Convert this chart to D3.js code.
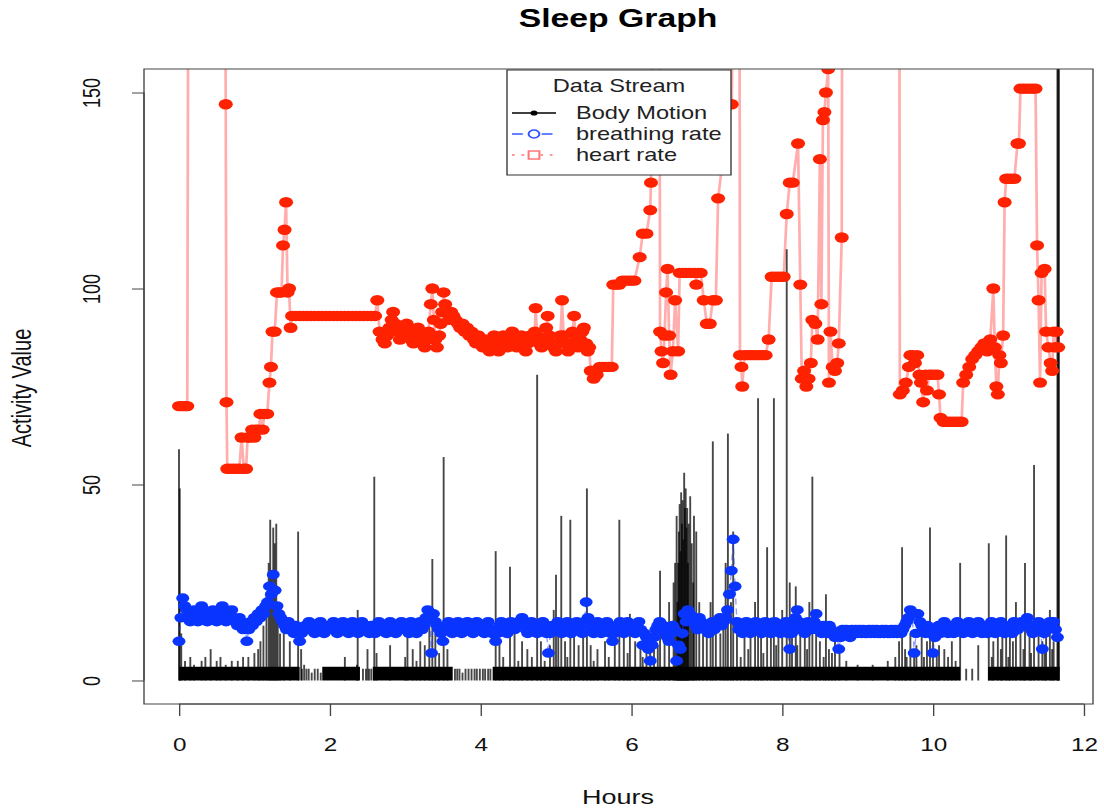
<!DOCTYPE html>
<html>
<head>
<meta charset="utf-8">
<script src="https://cdn.jsdelivr.net/npm/d3@7"></script>
<style>
  body { margin: 0; background: #fff; }
  svg { display: block; }
</style>
</head>
<body>
<svg id="chart" width="1104" height="808"></svg>
<script>
// ---- data ----
var xTicks = [0, 2, 4, 6, 8, 10, 12];
var yTicks = [0, 50, 100, 150];
var legendLabels = ["Body Motion", "breathing rate", "heart rate"];

// heart rate: [hour, bpm]; 250 = sensor spike above the plot
var heartRate = [
  [0.00,70],[0.04,70],[0.08,70],[0.11,70],[0.13,250],[0.60,250],[0.62,147],[0.63,71],
  [0.64,54],[0.68,54],[0.72,54],[0.76,54],[0.80,54],[0.83,62],[0.86,54],[0.89,54],[0.91,62],[0.94,62],
  [0.97,64],[1.00,62],[1.02,64],[1.06,64],[1.08,68],[1.11,64],[1.13,68],[1.17,68],[1.20,76],[1.22,80],
  [1.24,89],[1.27,89],[1.30,99],[1.33,99],[1.36,99],[1.38,111],[1.40,115],[1.42,122],[1.44,99],[1.46,100],
  [1.48,90],[1.50,93],[1.55,93],[1.60,93],[1.65,93],[1.70,93],[1.75,93],[1.80,93],[1.85,93],[1.90,93],
  [1.95,93],[2.00,93],[2.05,93],[2.10,93],[2.15,93],[2.20,93],[2.25,93],[2.30,93],[2.35,93],[2.40,93],
  [2.45,93],[2.50,93],[2.55,93],[2.60,93],
  [2.63,97],[2.66,89],[2.70,87],[2.73,86],[2.76,88],[2.79,90],[2.82,92],[2.84,94],[2.87,91],[2.90,89],
  [2.93,87],[2.96,88],[2.99,90],[3.02,91],[3.05,89],[3.08,87],[3.11,86],[3.14,88],[3.17,90],[3.20,88],
  [3.23,86],[3.26,85],[3.29,87],[3.31,89],[3.34,96],[3.36,100],[3.38,92],[3.40,87],[3.42,85],[3.45,88],
  [3.47,91],[3.49,94],[3.51,99],[3.53,96],[3.55,94],[3.58,92],[3.61,94],[3.64,93],[3.67,92],[3.70,91],
  [3.73,90],[3.76,91],[3.79,89],[3.82,90],[3.85,88],[3.88,89],[3.91,87],[3.94,86],[3.97,88],[4.00,86],
  [4.03,85],[4.06,87],[4.09,85],[4.12,84],[4.15,86],[4.18,88],[4.21,86],[4.24,84],[4.27,86],[4.30,88],
  [4.33,87],[4.36,85],[4.39,87],[4.42,89],[4.45,87],[4.48,85],[4.51,86],[4.54,88],[4.57,86],[4.60,84],
  [4.63,86],[4.66,88],[4.69,87],[4.72,89],[4.73,95],[4.75,88],[4.78,86],[4.81,85],[4.84,87],[4.87,90],
  [4.89,93],[4.91,88],[4.94,86],[4.97,85],[5.00,84],[5.03,86],[5.06,88],[5.08,97],[5.10,88],[5.13,86],
  [5.16,84],[5.19,86],[5.22,89],[5.24,93],[5.26,88],[5.29,85],[5.32,87],[5.35,89],[5.37,90],[5.40,86],
  [5.42,84],[5.44,85],[5.46,79],[5.50,77],[5.54,78],[5.58,80],[5.62,80],[5.66,80],[5.70,80],[5.74,80],
  [5.76,101],[5.80,101],[5.84,101],[5.88,102],[5.92,102],[5.96,102],[6.00,102],[6.04,102],[6.11,108],
  [6.15,114],[6.20,114],[6.25,120],[6.26,127],[6.27,250],[6.37,250],[6.38,89],[6.40,84],[6.42,81],
  [6.44,88],[6.46,99],[6.48,105],[6.50,88],[6.52,78],[6.55,84],[6.58,97],[6.62,84],[6.64,104],[6.68,104],
  [6.72,104],[6.76,104],[6.80,104],[6.84,104],[6.86,101],[6.88,104],[6.92,104],[6.96,97],[7.00,91],
  [7.04,91],[7.08,97],[7.12,97],[7.15,123],[7.30,147],[7.33,147],[7.40,250],[7.43,250],
  [7.44,83],[7.46,80],[7.47,75],[7.50,83],[7.54,83],[7.58,83],[7.62,83],[7.66,83],[7.70,83],[7.74,83],
  [7.78,83],[7.82,87],[7.86,103],[7.90,103],[7.94,103],[7.98,103],[8.02,103],[8.06,119],[8.10,127],
  [8.14,127],[8.21,137],[8.24,101],[8.26,77],[8.29,79],[8.32,75],[8.35,77],[8.38,81],[8.40,92],[8.44,91],
  [8.47,87],[8.50,133],[8.52,96],[8.54,143],[8.56,145],[8.58,150],[8.61,156],[8.62,76],[8.64,89],
  [8.67,80],[8.70,79],[8.73,81],[8.75,86],[8.79,113],[8.80,250],[9.55,250],
  [9.56,73],[9.60,74],[9.64,76],[9.68,80],[9.70,83],[9.73,83],[9.76,81],[9.79,83],[9.82,78],[9.84,76],
  [9.87,71],[9.90,78],[9.92,74],[9.95,78],[9.98,78],[10.02,78],[10.06,78],[10.08,73],[10.10,67],
  [10.14,66],[10.18,66],[10.22,66],[10.26,66],[10.30,66],[10.34,66],[10.38,66],[10.40,76],[10.44,78],
  [10.48,80],[10.52,82],[10.56,83],[10.60,84],[10.64,85],[10.68,86],[10.72,84],[10.76,87],[10.80,100],
  [10.82,85],[10.84,75],[10.86,73],[10.88,83],[10.90,81],[10.93,88],[10.95,122],[10.97,128],[11.00,128],
  [11.04,128],[11.08,128],[11.12,137],[11.14,137],[11.16,151],[11.20,151],[11.24,151],[11.28,151],
  [11.32,151],[11.36,151],[11.38,111],[11.40,97],[11.42,76],[11.44,104],[11.48,105],[11.50,89],
  [11.53,85],[11.56,81],[11.58,79],[11.60,89],[11.62,85],[11.64,89],[11.66,85]
];

// breathing rate: one sample every 0.025 h starting at hour 0 (one row = one hour)
var breathStep = 0.025;
var breathRate = [
  10,16,21,19,18,16,15,17,18,16,15,17,19,18,16,15,17,16,18,17,15,16,18,19,17,15,16,17,18,16,15,14,16,15,13,14,10,13,15,14,
  16,15,17,16,18,17,19,20,24,22,27,23,19,17,16,15,14,13,15,14,13,12,14,13,10,12,13,14,13,15,14,13,12,14,13,15,14,12,13,14,
  14,13,15,14,12,13,14,15,13,14,12,13,15,14,13,12,14,15,13,14,13,12,14,13,12,13,15,14,13,14,12,13,15,14,13,12,14,13,15,14,
  13,14,12,15,14,13,12,14,15,13,14,16,18,17,7,17,15,14,13,12,10,13,14,15,13,12,14,13,15,14,12,13,14,15,13,14,12,13,15,14,
  14,13,12,14,15,13,12,13,10,12,14,15,13,14,12,13,15,14,13,14,15,14,16,15,13,12,14,15,13,14,12,13,14,15,13,12,7,12,14,13,
  14,15,13,12,14,13,15,14,12,13,14,15,13,14,12,15,20,16,14,13,12,14,15,13,12,14,13,15,14,12,10,12,14,13,15,14,12,13,15,14,
  13,14,12,13,15,13,9,12,11,8,5,9,11,13,14,15,13,14,12,11,10,12,14,13,5,9,8,12,17,15,18,17,15,16,14,13,16,15,14,13,
  13,12,14,15,13,14,15,16,14,15,16,18,22,28,36,24,15,13,14,12,13,15,14,12,13,14,15,13,14,12,13,15,14,13,12,14,15,13,14,12,
  14,13,15,12,8,12,14,16,18,15,13,14,12,13,15,14,13,15,17,14,13,12,14,13,12,14,13,12,11,12,8,11,13,12,13,12,11,13,12,13,
  12,13,12,13,12,12,13,12,13,12,13,12,12,13,12,13,12,12,13,12,13,12,13,12,13,14,15,16,18,17,7,12,17,15,14,13,12,14,13,12,
  7,11,13,14,12,13,15,14,12,13,14,12,13,15,14,13,12,14,13,15,14,12,13,14,15,13,12,14,13,12,14,15,13,12,14,13,15,14,12,13,
  13,14,12,15,14,13,14,15,14,15,16,14,13,12,14,13,15,13,8,12,14,13,15,14,15,13,11
];

// body motion: steady low band [from hour, to hour, level]
var bodyBand = [[0.00,1.60,3.5],[1.90,2.40,3.5],[2.57,3.63,3.5],[4.16,10.36,3.5],[10.73,11.68,3.5]];
// body motion: single readings [hour, value]
var bodyMotion = [
  [1.63,3],[1.66,4],[1.69,3],[1.72,3],[1.76,2],[1.80,3],[1.84,3],[1.88,2],[2.44,3],[2.48,3],
  [2.52,3],[2.55,3],[2.20,6],[2.36,4],[2.62,7],
  [3.66,3],[3.69,3],[3.72,3],[3.76,2],[3.80,3],[3.84,3],[3.88,3],[3.92,3],[3.95,3],[3.99,3],
  [4.03,3],[4.06,3],[4.10,3],[4.13,3],[10.44,3],[10.52,3],[10.60,9],
  [0.08,5],[0.20,4],[0.35,6],[0.50,5],[0.62,4],[0.78,5],[0.92,6],[1.05,8],[3.00,6],[3.15,5],
  [3.45,7],[4.30,6],[4.50,5],[4.68,6],[4.85,5],[5.15,6],[5.50,5],[5.70,6],[5.95,7],[6.15,6],
  [6.25,8],[6.35,9],[7.45,6],[7.55,8],[7.75,7],[7.92,9],[8.20,9],[8.33,8],[8.55,6],[8.66,7],
  [8.85,5],[9.00,4],[9.20,4],[9.40,5],[9.65,6],[9.75,8],[9.88,6],[10.05,7],[10.20,6],[10.30,5],
  [10.78,6],[10.90,8],[11.00,6],[11.20,8],[11.30,7],[11.48,9],[11.58,8],
  [0.00,59],[0.01,49],[0.03,12],[0.15,6],[0.30,5],[0.42,8],[0.55,6],[0.70,5],[0.85,6],[1.00,7],
  [1.08,10],[1.12,14],[1.16,22],[1.19,30],[1.21,41],[1.23,26],[1.25,39],[1.27,35],[1.29,40],[1.31,18],
  [1.34,12],[1.39,16],[1.47,10],[1.58,38],[1.62,8],[2.37,18],[2.50,8],[2.59,52],[2.80,9],[3.03,12],
  [3.10,8],[3.20,10],[3.26,9],[3.32,15],[3.36,31],[3.40,12],[3.51,57],[3.56,8],
  [4.20,33],[4.25,10],[4.39,29],[4.45,12],[4.55,10],[4.62,8],[4.75,78],[4.80,10],[4.92,9],[4.97,18],
  [5.00,27],[5.03,15],[5.07,42],[5.12,10],[5.19,41],[5.24,12],[5.30,9],[5.36,15],[5.41,49],[5.46,9],
  [5.55,8],[5.65,10],[5.78,12],[5.84,41],[5.90,12],[5.98,17],[6.05,10],[6.12,9],[6.20,13],[6.30,12],
  [6.38,28],[6.44,15],[6.50,20],[6.56,25],[6.58,30],[6.60,42],[6.61,20],[6.62,30],[6.63,38],[6.64,45],
  [6.65,33],[6.66,48],[6.67,40],[6.68,46],[6.69,36],[6.70,53],[6.71,44],[6.72,49],[6.73,39],[6.74,44],
  [6.75,30],[6.76,40],[6.78,47],[6.80,35],[6.82,25],[6.83,42],[6.86,38],[6.90,20],[6.95,16],[7.00,12],
  [7.05,20],[7.08,61],[7.12,15],[7.18,12],[7.22,18],[7.25,30],[7.28,63],[7.32,20],[7.35,38],[7.40,14],
  [7.50,12],[7.58,15],[7.64,20],[7.68,72],[7.72,12],[7.80,34],[7.85,16],[7.89,72],[7.95,12],[8.00,18],
  [8.06,110],[8.10,25],[8.13,15],[8.18,24],[8.24,12],[8.30,16],[8.36,20],[8.40,52],[8.45,14],[8.50,10],
  [8.58,22],[8.62,8],[8.70,10],[8.76,8],[9.50,6],[9.55,10],[9.59,34],[9.63,8],[9.70,12],[9.78,9],
  [9.85,14],[9.92,10],[9.96,39],[10.00,12],[10.08,9],[10.15,8],[10.25,10],[10.36,30],[10.74,35],[10.80,10],
  [10.86,12],[10.92,14],[10.97,37],[11.02,12],[11.06,10],[11.10,20],[11.16,12],[11.22,30],[11.28,14],[11.34,55],
  [11.40,12],[11.45,10],[11.50,14],[11.55,18],[11.60,10],[11.65,200],[11.66,200],[11.67,200]
];

// ---- drawing ----
// the reference picture is widened sideways, so everything is drawn in a stretched group
var stretch = 1.35;
var font = "'Liberation Sans', Arial, Helvetica, sans-serif";
var svg = d3.select("#chart");
var root = svg.append("g").attr("transform", "scale(" + stretch + ",1)");

var plot = { left: 144 / stretch, right: 1093 / stretch, top: 69, bottom: 704 };

var x = d3.scaleLinear().domain([-0.464, 12.122]).range([plot.left, plot.right]);
var y = d3.scaleLinear().domain([-6, 156]).range([plot.bottom, plot.top]);

root.append("defs").append("clipPath").attr("id", "plotClip")
  .append("rect")
  .attr("x", plot.left).attr("y", plot.top)
  .attr("width", plot.right - plot.left).attr("height", plot.bottom - plot.top);

var marks = root.append("g").attr("clip-path", "url(#plotClip)");

// body motion band and spikes
marks.append("g").selectAll("rect")
  .data(bodyBand)
  .enter().append("rect")
  .attr("x", d => x(d[0]))
  .attr("width", d => x(d[1]) - x(d[0]))
  .attr("y", d => y(d[2]))
  .attr("height", d => y(0) - y(d[2]))
  .attr("fill", "#000");

marks.append("g").selectAll("line")
  .data(bodyMotion)
  .enter().append("line")
  .attr("x1", d => x(d[0])).attr("x2", d => x(d[0]))
  .attr("y1", y(0)).attr("y2", d => y(d[1]))
  .attr("stroke", "#000")
  .attr("stroke-opacity", 0.72)
  .attr("stroke-width", 1.4);

// breathing rate
var breathPts = breathRate.map((v, i) => [i * breathStep, v]);
var line = d3.line().x(d => x(d[0])).y(d => y(d[1]));

marks.append("path")
  .datum(breathPts)
  .attr("d", line)
  .attr("fill", "none")
  .attr("stroke", "#1a3cff")
  .attr("stroke-opacity", 0.5)
  .attr("stroke-dasharray", "6,4");

marks.append("g").selectAll("circle")
  .data(breathPts)
  .enter().append("circle")
  .attr("cx", d => x(d[0])).attr("cy", d => y(d[1]))
  .attr("r", 4.8)
  .attr("fill", "#0a35ff");

// heart rate
marks.append("path")
  .datum(heartRate)
  .attr("d", line)
  .attr("fill", "none")
  .attr("stroke", "#ff0000")
  .attr("stroke-opacity", 0.32)
  .attr("stroke-width", 2);

marks.append("g").selectAll("circle")
  .data(heartRate)
  .enter().append("circle")
  .attr("cx", d => x(d[0])).attr("cy", d => y(d[1]))
  .attr("r", 5.2)
  .attr("fill", "#ff2200");

// plot box
root.append("rect")
  .attr("x", plot.left).attr("y", plot.top)
  .attr("width", plot.right - plot.left).attr("height", plot.bottom - plot.top)
  .attr("fill", "none")
  .attr("stroke", "#444")
  .attr("stroke-width", 1);

// axes
var xAxis = root.append("g")
  .attr("transform", "translate(0," + plot.bottom + ")")
  .call(d3.axisBottom(x).tickValues(xTicks).tickSize(12).tickSizeOuter(0).tickPadding(22));
xAxis.select(".domain").attr("d", "M" + x(0) + ",0H" + x(12));
xAxis.selectAll("text").attr("font-size", "18px").attr("font-family", font).attr("fill", "#111");
xAxis.selectAll("line, path").attr("stroke", "#444");

var yAxis = root.append("g")
  .attr("transform", "translate(" + plot.left + ",0)")
  .call(d3.axisLeft(y).tickValues(yTicks).tickSize(12 / stretch).tickSizeOuter(0));
yAxis.select(".domain").attr("d", "M0," + y(0) + "V" + y(150));
yAxis.selectAll("line, path").attr("stroke", "#444");
yAxis.selectAll("text")
  .attr("x", null).attr("dy", null)
  .attr("text-anchor", "middle")
  .attr("transform", "translate(" + (-44 / stretch) + ",0) rotate(-90)")
  .attr("font-size", "18px").attr("font-family", font).attr("fill", "#111");

// titles
root.append("text")
  .attr("x", 618 / stretch).attr("y", 27)
  .attr("text-anchor", "middle")
  .attr("font-family", font).attr("font-size", "25px").attr("font-weight", "bold")
  .text("Sleep Graph");

root.append("text")
  .attr("x", 618 / stretch).attr("y", 804)
  .attr("text-anchor", "middle")
  .attr("font-family", font).attr("font-size", "20px").attr("fill", "#111")
  .text("Hours");

root.append("text")
  .attr("transform", "translate(" + (31 / stretch) + "," + 388 + ") rotate(-90)")
  .attr("text-anchor", "middle")
  .attr("font-family", font).attr("font-size", "20px").attr("fill", "#111")
  .text("Activity Value");

// legend
var lg = root.append("g");
lg.append("rect")
  .attr("x", 507 / stretch).attr("y", 70)
  .attr("width", (731 - 507) / stretch).attr("height", 105)
  .attr("fill", "#fff").attr("stroke", "#333").attr("stroke-width", 1);
lg.append("text")
  .attr("x", 619 / stretch).attr("y", 92)
  .attr("text-anchor", "middle")
  .attr("font-family", font).attr("font-size", "17.5px").attr("fill", "#222")
  .text("Data Stream");

var legendY = [113, 134, 155];
var legendColor = ["#000", "#3355ff", "#ff7777"];
var legendDash = [null, "8,14", "2,5"];
legendLabels.forEach(function(label, i) {
  lg.append("line")
    .attr("x1", 512 / stretch).attr("x2", 556 / stretch)
    .attr("y1", legendY[i]).attr("y2", legendY[i])
    .attr("stroke", legendColor[i])
    .attr("stroke-width", 1.5)
    .attr("stroke-dasharray", legendDash[i]);
  if (i == 0) {
    lg.append("circle").attr("cx", 534 / stretch).attr("cy", legendY[i]).attr("r", 2.6).attr("fill", "#000");
  } else if (i == 1) {
    lg.append("circle").attr("cx", 534 / stretch).attr("cy", legendY[i]).attr("r", 4)
      .attr("fill", "#fff").attr("stroke", legendColor[i]).attr("stroke-width", 1.5);
  } else {
    lg.append("rect").attr("x", 534 / stretch - 4).attr("y", legendY[i] - 4)
      .attr("width", 8).attr("height", 8)
      .attr("fill", "#fff").attr("stroke", legendColor[i]).attr("stroke-width", 1.5);
  }
  lg.append("text")
    .attr("x", 576 / stretch).attr("y", legendY[i] + 6)
    .attr("font-family", font).attr("font-size", "17.5px").attr("fill", "#222")
    .text(label);
});
</script>
</body>
</html>
